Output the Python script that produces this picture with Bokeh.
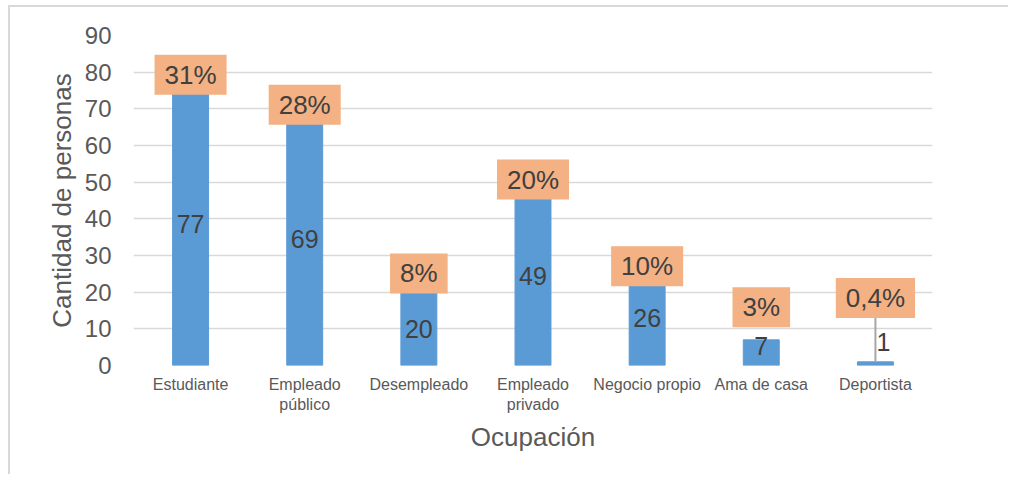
from bokeh.plotting import figure
from bokeh.models import ColumnDataSource, FactorRange, Range1d, FixedTicker
from bokeh.core.properties import value
from bokeh.embed import file_html
from bokeh.resources import INLINE

# ---- data ----
categories = ["Estudiante", "Empleado\npúblico", "Desempleado", "Empleado\nprivado",
              "Negocio propio", "Ama de casa", "Deportista"]
counts = [77, 69, 20, 49, 26, 7, 1]
pct_labels = ["31%", "28%", "8%", "20%", "10%", "3%", "0,4%"]
y_ticks = [0, 10, 20, 30, 40, 50, 60, 70, 80, 90]

# ---- label placement (layout) ----
pct_label_y = [79.3, 71.1, 25.1, 50.7, 27.1, 15.9, 18.4]
small_value_label_y = {"Ama de casa": 5.3, "Deportista": 6.3}
value_label_y = [small_value_label_y.get(c, v / 2) for c, v in zip(categories, counts)]
value_label_dx = [8 if c == "Deportista" else 0 for c in categories]

FONT = value("Liberation Sans")
src = ColumnDataSource(dict(cat=categories, val=counts, pct=pct_labels,
                            pct_y=pct_label_y, val_y=value_label_y,
                            val_txt=[str(v) for v in counts], dx=value_label_dx))

p = figure(x_range=FactorRange(*categories, range_padding=0), y_range=Range1d(0, 90),
           width=1000, height=469, output_backend="svg", toolbar_location=None,
           min_border_left=123, min_border_right=78, min_border_top=28, min_border_bottom=111)
p.margin = (5, 0, 0, 8)
p.styles = {"border-top": "2px solid #d9d9d9", "border-left": "2px solid #d9d9d9"}
p.outline_line_color = None

p.vbar(x="cat", top="val", width=0.315, fill_color="#5B9BD5", line_color="#5B9BD5", source=src)

# leader line for the tiny bar
last = len(categories) - 1
p.segment(x0=[categories[last]], y0=[pct_label_y[last] - 5.3],
          x1=[categories[last]], y1=[counts[last]], line_color="#a6a6a6", line_width=2)

p.text(x="cat", y="val_y", text="val_txt", x_offset="dx", source=src,
       text_align="center", text_baseline="middle", text_font=FONT,
       text_font_size="25px", text_color="#404040")

p.text(x="cat", y="pct_y", text="pct", source=src,
       text_align="center", text_baseline="middle", text_font=FONT,
       text_font_size="26px", text_color="#404040",
       background_fill_color="#F4B183",
       padding=dict(left=10, right=10, top=5, bottom=5))

# axes
p.ygrid.grid_line_color = "#d9d9d9"
p.ygrid.grid_line_width = 1.5
p.xgrid.grid_line_color = None

p.yaxis.ticker = FixedTicker(ticks=y_ticks)
for ax in (p.xaxis[0], p.yaxis[0]):
    ax.axis_line_color = None
    ax.major_tick_line_color = None
    ax.minor_tick_line_color = None
    ax.major_tick_out = 0
    ax.major_tick_in = 0
    ax.major_label_text_font = "Liberation Sans"
    ax.major_label_text_color = "#595959"
    ax.axis_label_text_font = "Liberation Sans"
    ax.axis_label_text_font_style = "normal"
    ax.axis_label_text_color = "#595959"
    ax.axis_label_text_font_size = "26px"

p.yaxis.major_label_text_font_size = "24px"
p.yaxis.major_label_standoff = 22
p.yaxis.axis_label = "Cantidad de personas"
p.yaxis.axis_label_standoff = 5

p.xaxis.major_label_text_font_size = "16px"
p.xaxis.major_label_standoff = 10
p.xaxis.axis_label = "Ocupación"
p.xaxis.axis_label_standoff = 6

open("out.html", "w").write(file_html(p, INLINE))
